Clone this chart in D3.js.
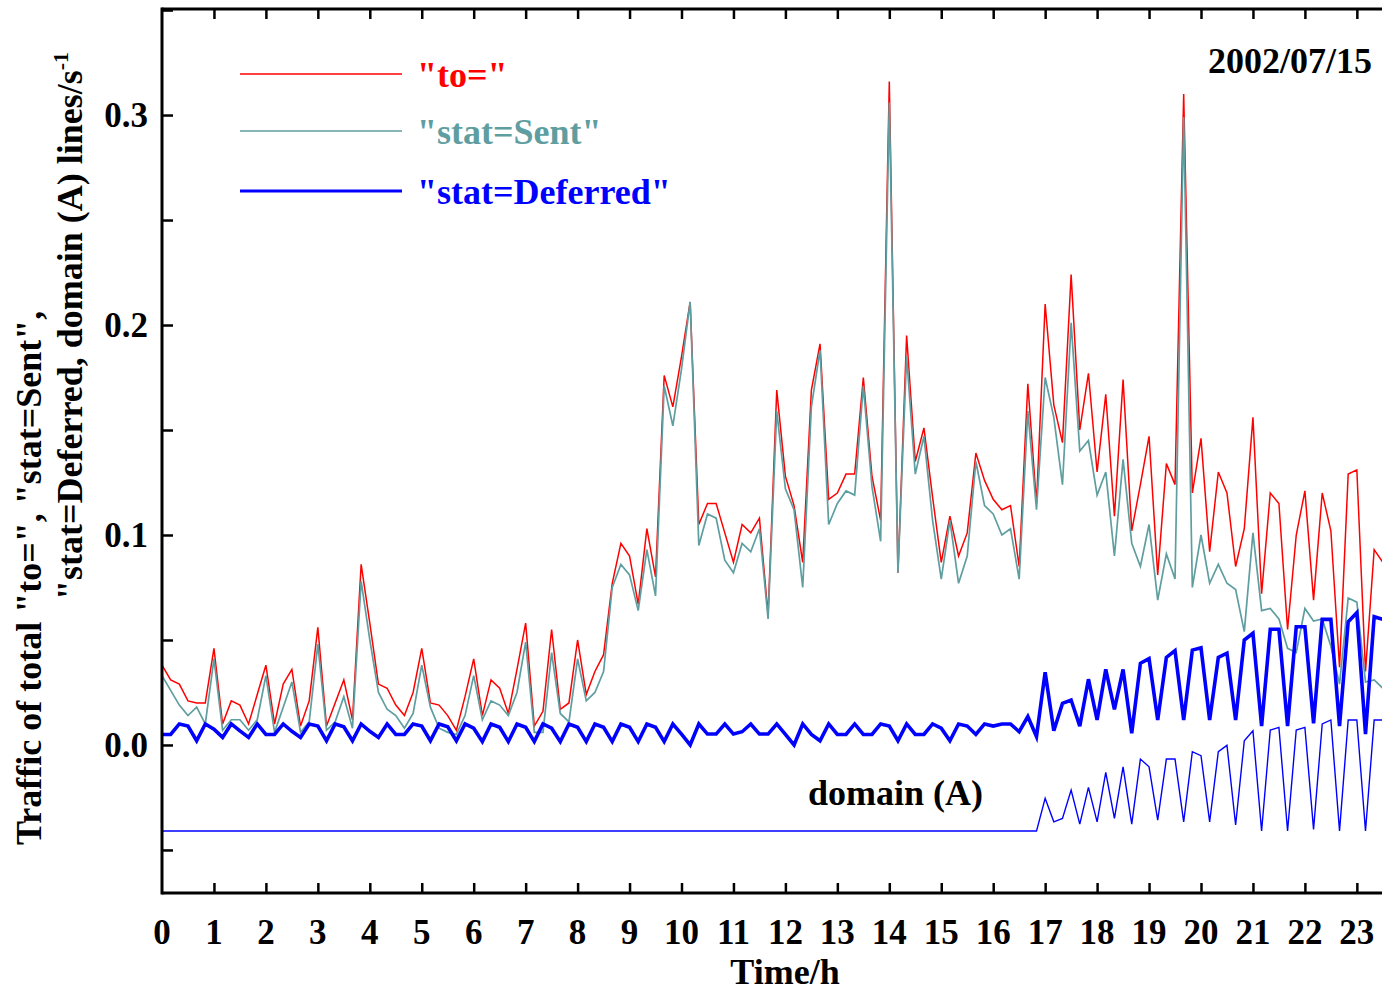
<!DOCTYPE html>
<html>
<head>
<meta charset="utf-8">
<script src="https://cdn.jsdelivr.net/npm/d3@7"></script>
<style>
  body { margin: 0; background: #fff; }
  svg { display: block; }
  text { font-family: "Liberation Serif", "Times New Roman", serif; font-weight: bold; }
</style>
</head>
<body>
<div class="canvas"></div>
<script>
// 10 minute samples, hour = index / 6
const stepHours = 1 / 6;
const hourTicks = d3.range(0, 24);
const rateTicks = [0.0, 0.1, 0.2, 0.3];

// "to=" lines/s
const toRate = [
  0.038, 0.031, 0.029, 0.021, 0.020, 0.020, 0.046, 0.010, 0.021, 0.019,
  0.010, 0.024, 0.038, 0.010, 0.029, 0.036, 0.009, 0.021, 0.056, 0.009,
  0.020, 0.031, 0.012, 0.086, 0.058, 0.029, 0.027, 0.019, 0.014, 0.025,
  0.046, 0.020, 0.019, 0.014, 0.007, 0.023, 0.041, 0.014, 0.031, 0.027,
  0.015, 0.036, 0.058, 0.009, 0.016, 0.055, 0.017, 0.020, 0.050, 0.024,
  0.035, 0.043, 0.077, 0.096, 0.090, 0.067, 0.103, 0.080, 0.176, 0.161,
  0.185, 0.211, 0.105, 0.115, 0.115, 0.101, 0.087, 0.105, 0.101, 0.108,
  0.062, 0.169, 0.128, 0.114, 0.087, 0.169, 0.191, 0.117, 0.120, 0.129,
  0.129, 0.175, 0.128, 0.107, 0.316, 0.082, 0.195, 0.135, 0.151, 0.118,
  0.087, 0.109, 0.090, 0.101, 0.139, 0.126, 0.117, 0.112, 0.114, 0.085,
  0.172, 0.115, 0.210, 0.162, 0.144, 0.224, 0.150, 0.177, 0.130, 0.167,
  0.109, 0.174, 0.102, 0.124, 0.147, 0.081, 0.134, 0.124, 0.310, 0.120,
  0.146, 0.092, 0.130, 0.120, 0.085, 0.103, 0.156, 0.072, 0.120, 0.115,
  0.055, 0.100, 0.121, 0.069, 0.120, 0.102, 0.037, 0.129, 0.131, 0.035,
  0.093, 0.087
];

// "stat=Sent" lines/s
const sentRate = [
  0.033, 0.026, 0.019, 0.014, 0.018, 0.010, 0.041, 0.007, 0.012, 0.012,
  0.007, 0.012, 0.033, 0.006, 0.018, 0.030, 0.006, 0.011, 0.048, 0.007,
  0.011, 0.023, 0.008, 0.078, 0.050, 0.025, 0.017, 0.014, 0.008, 0.015,
  0.038, 0.018, 0.008, 0.006, 0.005, 0.014, 0.033, 0.012, 0.021, 0.019,
  0.014, 0.025, 0.049, 0.006, 0.006, 0.044, 0.015, 0.011, 0.041, 0.021,
  0.025, 0.035, 0.075, 0.086, 0.081, 0.064, 0.093, 0.071, 0.171, 0.152,
  0.179, 0.211, 0.095, 0.110, 0.108, 0.088, 0.082, 0.096, 0.092, 0.103,
  0.060, 0.159, 0.122, 0.112, 0.075, 0.161, 0.188, 0.105, 0.115, 0.121,
  0.119, 0.171, 0.123, 0.097, 0.306, 0.082, 0.185, 0.129, 0.147, 0.107,
  0.079, 0.107, 0.077, 0.090, 0.135, 0.114, 0.110, 0.100, 0.103, 0.079,
  0.159, 0.112, 0.175, 0.156, 0.124, 0.201, 0.140, 0.145, 0.119, 0.130,
  0.090, 0.136, 0.096, 0.085, 0.105, 0.069, 0.091, 0.079, 0.299, 0.075,
  0.100, 0.077, 0.086, 0.077, 0.074, 0.054, 0.101, 0.064, 0.065, 0.060,
  0.046, 0.044, 0.065, 0.059, 0.060, 0.047, 0.029, 0.070, 0.068, 0.030,
  0.031, 0.027
];

// "stat=Deferred" lines/s
const deferredRate = [
  0.005, 0.005, 0.010, 0.009, 0.002, 0.010, 0.0075, 0.0036, 0.010, 0.0067,
  0.0036, 0.010, 0.005, 0.005, 0.010, 0.0065, 0.0036, 0.010, 0.009, 0.002,
  0.010, 0.0087, 0.002, 0.010, 0.0065, 0.0036, 0.010, 0.005, 0.005, 0.010,
  0.009, 0.002, 0.010, 0.0087, 0.002, 0.010, 0.008, 0.0016, 0.010, 0.0084,
  0.0016, 0.010, 0.0084, 0.0016, 0.010, 0.008, 0.0016, 0.010, 0.0084, 0.0016,
  0.010, 0.0084, 0.0016, 0.010, 0.0084, 0.0016, 0.010, 0.0084, 0.0016, 0.010,
  0.0052, 0.000, 0.010, 0.0052, 0.0052, 0.010, 0.0052, 0.0063, 0.010, 0.0052,
  0.0052, 0.010, 0.005, 0.000, 0.010, 0.005, 0.002, 0.010, 0.005, 0.005,
  0.010, 0.005, 0.005, 0.010, 0.009, 0.002, 0.010, 0.005, 0.005, 0.010,
  0.008, 0.002, 0.010, 0.009, 0.005, 0.010, 0.009, 0.010, 0.010, 0.0063,
  0.0135, 0.004, 0.0346, 0.0068, 0.0198, 0.0214, 0.009, 0.0313, 0.0119, 0.036,
  0.017, 0.036, 0.0056, 0.0389, 0.0411, 0.0119, 0.0417, 0.0449, 0.0119, 0.0452,
  0.0463, 0.0119, 0.0417, 0.0437, 0.0119, 0.050, 0.0532, 0.009, 0.0551, 0.0551,
  0.009, 0.0563, 0.0563, 0.0103, 0.0598, 0.0598, 0.009, 0.0587, 0.063, 0.0052,
  0.0611, 0.0598
];

// "stat=Deferred, domain (A)" lines/s, drawn below the zero line
const domainARate = [
  0, 0, 0, 0, 0, 0, 0, 0, 0, 0, 0, 0, 0, 0, 0, 0, 0, 0, 0, 0,
  0, 0, 0, 0, 0, 0, 0, 0, 0, 0, 0, 0, 0, 0, 0, 0, 0, 0, 0, 0,
  0, 0, 0, 0, 0, 0, 0, 0, 0, 0, 0, 0, 0, 0, 0, 0, 0, 0, 0, 0,
  0, 0, 0, 0, 0, 0, 0, 0, 0, 0, 0, 0, 0, 0, 0, 0, 0, 0, 0, 0,
  0, 0, 0, 0, 0, 0, 0, 0, 0, 0, 0, 0, 0, 0, 0, 0, 0, 0, 0, 0,
  0, 0, 0.0156, 0.0044, 0.006, 0.0195, 0.0033, 0.0208, 0.0044, 0.028,
  0.006, 0.0306, 0.0033, 0.0343, 0.0306, 0.0052, 0.0343, 0.0343, 0.0044, 0.0378,
  0.0359, 0.0044, 0.0378, 0.0408, 0.0029, 0.043, 0.0478, 0.000, 0.0481, 0.0494,
  0.000, 0.0481, 0.0494, 0.0008, 0.051, 0.0529, 0.000, 0.0529, 0.0529, 0.000,
  0.0529, 0.0529
];
const domainABase = -0.041;

const W = 1382, H = 994;
const svg = d3.select(".canvas").append("svg")
  .attr("width", W)
  .attr("height", H);

const x = d3.scaleLinear().domain([0, 24]).range([162, 162 + 24 * 51.95]);
const y = d3.scaleLinear().domain([-0.0705, 0.3505]).range([893, 9]);

const hour = (d, i) => x(i * stepHours);
const line = d3.line().x(hour).y(d => y(d));
const lineA = d3.line().x(hour).y(d => y(domainABase + d));

const plot = svg.append("g");

plot.append("path")
  .datum(toRate)
  .attr("d", line)
  .attr("fill", "none")
  .attr("stroke", "#ff0000")
  .attr("stroke-width", 1.5);

plot.append("path")
  .datum(sentRate)
  .attr("d", line)
  .attr("fill", "none")
  .attr("stroke", "#5f9ea0")
  .attr("stroke-width", 1.7);

plot.append("path")
  .datum(deferredRate)
  .attr("d", line)
  .attr("fill", "none")
  .attr("stroke", "#0000ff")
  .attr("stroke-width", 3.6)
  .attr("stroke-linejoin", "miter");

plot.append("path")
  .datum(domainARate)
  .attr("d", lineA)
  .attr("fill", "none")
  .attr("stroke", "#0000ff")
  .attr("stroke-width", 1.4);

// frame + ticks
const frame = svg.append("g").attr("stroke", "#000");
frame.append("line")
  .attr("x1", 162).attr("x2", 162)
  .attr("y1", y.range()[1] - 1.5).attr("y2", y.range()[0] + 1.5)
  .attr("stroke-width", 3);
frame.append("line")
  .attr("x1", 162).attr("x2", x.range()[1])
  .attr("y1", y.range()[1]).attr("y2", y.range()[1])
  .attr("stroke-width", 3);
frame.append("line")
  .attr("x1", 162).attr("x2", x.range()[1])
  .attr("y1", y.range()[0]).attr("y2", y.range()[0])
  .attr("stroke-width", 3);

const innerHours = d3.range(1, 24);
svg.append("g")
  .attr("transform", `translate(0,${y.range()[0]})`)
  .call(d3.axisBottom(x).tickValues(innerHours).tickSize(-10).tickFormat(""))
  .call(g => g.select(".domain").remove())
  .call(g => g.selectAll(".tick line").attr("stroke-width", 2.5));

svg.append("g")
  .attr("transform", `translate(0,${y.range()[1]})`)
  .call(d3.axisTop(x).tickValues(innerHours).tickSize(-10).tickFormat(""))
  .call(g => g.select(".domain").remove())
  .call(g => g.selectAll(".tick line").attr("stroke-width", 2.5));

svg.append("g")
  .attr("transform", "translate(162,0)")
  .call(d3.axisLeft(y).tickValues(d3.range(-1, 8).map(k => k * 0.05)).tickSize(-11).tickFormat(""))
  .call(g => g.select(".domain").remove())
  .call(g => g.selectAll(".tick line").attr("stroke-width", 2.5));

// tick labels
svg.append("g").selectAll("text")
  .data(hourTicks)
  .join("text")
  .attr("x", d => x(d))
  .attr("y", 944)
  .attr("text-anchor", "middle")
  .style("font-size", "35px")
  .text(d => d);

svg.append("g").selectAll("text")
  .data(rateTicks)
  .join("text")
  .attr("x", 148)
  .attr("y", d => y(d) + 12)
  .attr("text-anchor", "end")
  .style("font-size", "35px")
  .text(d => d.toFixed(1));

svg.append("text")
  .attr("x", 785)
  .attr("y", 984)
  .attr("text-anchor", "middle")
  .style("font-size", "36px")
  .text("Time/h");

const yTitle = svg.append("g");
yTitle.append("text")
  .attr("transform", "translate(41,845) rotate(-90)")
  .style("font-size", "36px")
  .text('Traffic of total "to=", "stat=Sent",');
const t2 = yTitle.append("text")
  .attr("transform", "translate(82,600) rotate(-90)")
  .style("font-size", "36px");
t2.append("tspan").text('"stat=Deferred, domain (A) lines/s');
t2.append("tspan")
  .attr("dy", -14)
  .style("font-size", "22px")
  .text("-1");

// legend
const legend = [
  { label: '"to="', color: "#ff0000", width: 1.5, ly: 74 },
  { label: '"stat=Sent"', color: "#5f9ea0", width: 1.5, ly: 131 },
  { label: '"stat=Deferred"', color: "#0000ff", width: 3, ly: 191 }
];
const lg = svg.append("g");
lg.selectAll("line")
  .data(legend)
  .join("line")
  .attr("x1", 240).attr("x2", 402)
  .attr("y1", d => d.ly).attr("y2", d => d.ly)
  .attr("stroke", d => d.color)
  .attr("stroke-width", d => d.width);
lg.selectAll("text")
  .data(legend)
  .join("text")
  .attr("x", 417)
  .attr("y", d => d.ly + 13)
  .attr("fill", d => d.color)
  .style("font-size", "36px")
  .text(d => d.label);

svg.append("text")
  .attr("x", 1372)
  .attr("y", 73)
  .attr("text-anchor", "end")
  .style("font-size", "36px")
  .text("2002/07/15");

svg.append("text")
  .attr("x", 808)
  .attr("y", 805)
  .style("font-size", "36px")
  .text("domain (A)");
</script>
</body>
</html>
